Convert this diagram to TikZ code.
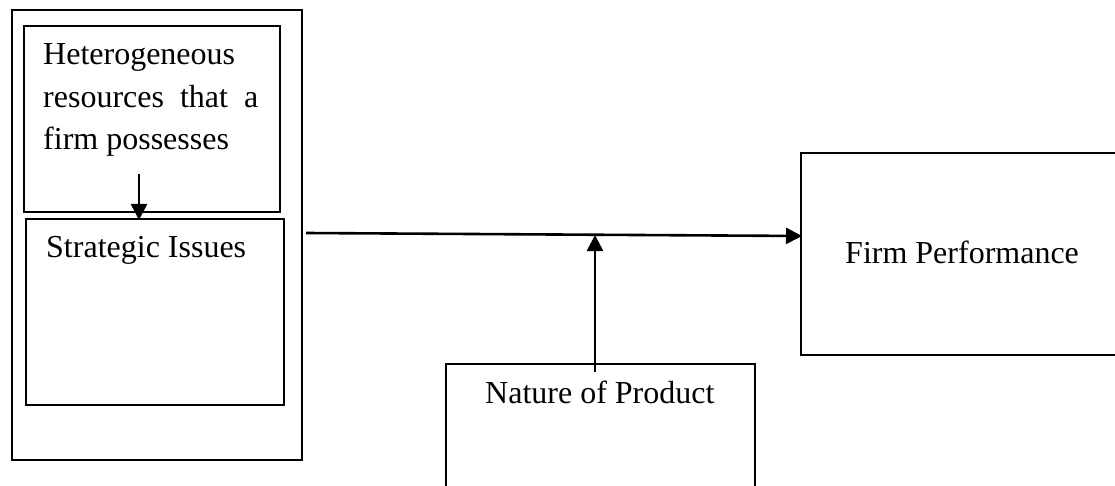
\documentclass[tikz,border=0pt]{standalone}
\usepackage{fontspec}
\setmainfont{Liberation Serif}
\usetikzlibrary{arrows.meta}
\begin{document}
\begin{tikzpicture}[x=1pt,y=-1pt,
  box/.style={draw, line width=2pt, inner sep=0pt, anchor=north west},
  lbl/.style={font=\fontsize{32}{42.5}\selectfont, inner sep=0pt, anchor=base west},
  arr/.style={-{Triangle[length=16pt,width=16pt]}, line width=2.6pt}]
\useasboundingbox (0,0) rectangle (1115,486);
\clip (0,0) rectangle (1115,486);
% boxes
\node[box, minimum width=290pt, minimum height=450pt] (outer) at (11,9) {};
\node[box, minimum width=256pt, minimum height=186pt] (res) at (23,25) {};
\node[box, minimum width=258pt, minimum height=186pt] (strat) at (25,218) {};
\node[box, minimum width=309pt, minimum height=200pt] (nat) at (445,363) {};
\node[box, minimum width=350pt, minimum height=202pt] (firm) at (800,152) {};
% labels
\node[lbl, text width=215pt, align=justify] (restext) at (43,65) {Heterogeneous resources that a firm possesses};
\node[lbl] (strattext) at (46,258) {Strategic Issues};
\node[lbl] (nattext) at (485,403) {Nature of Product};
\node[lbl] (firmtext) at (845,263) {Firm Performance};
% connectors
\coordinate (a0) at (139,174);
\draw[arr] (a0) -- ([yshift=-2pt]a0 |- strat.north);
\coordinate (h0) at (306,233);
\coordinate (h1) at (802,236);
\draw[arr] (h0) -- (h1);
\coordinate (v0) at (595,372);
\coordinate (v1) at (595,235);
\draw[arr] (v0) -- (v1);
\end{tikzpicture}
\end{document}
